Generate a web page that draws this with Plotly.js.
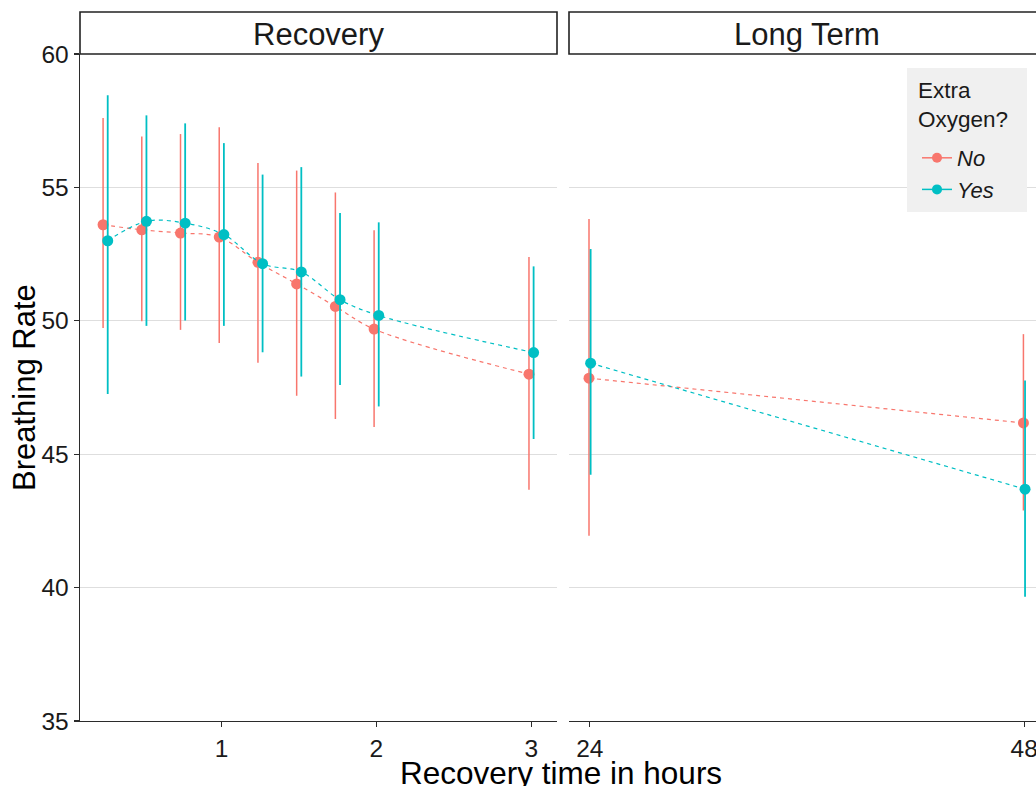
<!DOCTYPE html>
<html>
<head>
<meta charset="utf-8">
<script src="https://cdn.plot.ly/plotly-3.0.1.min.js"></script>
<style>html,body{margin:0;padding:0;background:#fff;}#chart{width:1036px;height:786px;}</style>
</head>
<body>
<div id="chart"></div>
<script>
// ---- Data ----
const panels = ["Recovery", "Long Term"];
const groups = ["No", "Yes"];
const legendTitle = "Extra<br>Oxygen?";
const hoursRecovery = [0.25, 0.5, 0.75, 1, 1.25, 1.5, 1.75, 2, 3];
const hoursLong = [24, 48];

const noMeanRecovery  = [53.60, 53.41, 53.29, 53.14, 52.19, 51.38, 50.54, 49.69, 48.00];
const noUpperRecovery = [57.60, 56.91, 57.00, 57.25, 55.91, 55.63, 54.81, 53.39, 52.39];
const noLowerRecovery = [49.73, 49.98, 49.66, 49.17, 48.43, 47.19, 46.32, 46.02, 43.67];

const yesMeanRecovery  = [53.00, 53.73, 53.66, 53.23, 52.14, 51.83, 50.79, 50.20, 48.81];
const yesUpperRecovery = [58.45, 57.70, 57.40, 56.66, 55.48, 55.76, 54.04, 53.69, 52.04];
const yesLowerRecovery = [47.26, 49.81, 50.01, 49.81, 48.82, 47.91, 47.59, 46.79, 45.57];

const noMeanLong  = [47.85, 46.17];
const noUpperLong = [53.82, 49.50];
const noLowerLong = [41.94, 42.89];

const yesMeanLong  = [48.41, 43.69];
const yesUpperLong = [52.69, 47.76];
const yesLowerLong = [44.23, 39.66];

const yTicks = [35, 40, 45, 50, 55, 60];
const xTicksRecovery = [1, 2, 3];
const xTicksLong = [24, 48];

// ---- Styling ----
const colNo = "#F8766D", colYes = "#00BFC4";
const FONT = "Liberation Sans, Arial, sans-serif";
const dodgeRecovery = 0.015, dodgeLong = 0.045;

function series(x, mean, upper, lower, color, dodge, xa, ya, spline, thick) {
  return {
    type: "scatter", mode: "lines+markers",
    x: x.map(v => v + dodge), y: mean,
    xaxis: xa, yaxis: ya, showlegend: false, hoverinfo: "x+y",
    line: {color: color, width: 1.2, dash: "4px,4px", shape: spline ? "spline" : "linear", smoothing: 1},
    marker: {color: color, size: 11, line: {width: 0}},
    error_y: {type: "data", symmetric: false,
      array: upper.map((u, i) => u - mean[i]),
      arrayminus: lower.map((l, i) => mean[i] - l),
      width: 0, thickness: thick, color: color}
  };
}

const traces = [
  series(hoursRecovery, noMeanRecovery, noUpperRecovery, noLowerRecovery, colNo, -dodgeRecovery, "x", "y", true, 1.5),
  series(hoursRecovery, yesMeanRecovery, yesUpperRecovery, yesLowerRecovery, colYes, dodgeRecovery, "x", "y", true, 1.8),
  series(hoursLong, noMeanLong, noUpperLong, noLowerLong, colNo, -dodgeLong, "x2", "y2", false, 1.5),
  series(hoursLong, yesMeanLong, yesUpperLong, yesLowerLong, colYes, dodgeLong, "x2", "y2", false, 1.8),
  // legend keys
  {type: "scatter", mode: "lines+markers", x: [null], y: [null], name: "<i>" + groups[0] + "</i>",
   legendgroup: "g0", line: {color: colNo, width: 1.5}, marker: {color: colNo, size: 10}, showlegend: true},
  {type: "scatter", mode: "lines+markers", x: [null], y: [null], name: "<i>" + groups[1] + "</i>",
   legendgroup: "g1", line: {color: colYes, width: 1.5}, marker: {color: colYes, size: 10}, showlegend: true}
];

const axisCommon = {
  showline: true, linecolor: "#2b2b2b", linewidth: 1.4,
  ticks: "outside", ticklen: 5, tickwidth: 1.2, tickcolor: "#2b2b2b",
  tickfont: {family: FONT, size: 24.5, color: "#1a1a1a"},
  showgrid: false, zeroline: false, fixedrange: true
};

const L = 80, R = 0, T = 54, B = 65;
const W = 1036, H = 786;
const pw = W - L - R, ph = H - T - B;
const px2x = p => (p - L) / pw;
const py2y = p => (H - B - p) / ph;

const layout = {
  width: W, height: H,
  margin: {l: L, r: R, t: T, b: B, pad: 0},
  paper_bgcolor: "#ffffff", plot_bgcolor: "#ffffff",
  font: {family: FONT, color: "#1a1a1a"},
  showlegend: true,
  xaxis: Object.assign({}, axisCommon, {domain: [0, px2x(557)], range: [0.086, 3.166],
    tickvals: xTicksRecovery, ticktext: xTicksRecovery.map(String), anchor: "y"}),
  xaxis2: Object.assign({}, axisCommon, {domain: [px2x(569), 1], range: [22.85, 48.65],
    tickvals: xTicksLong, ticktext: xTicksLong.map(String), anchor: "y2", ticklabeloverflow: "allow"}),
  yaxis: Object.assign({}, axisCommon, {domain: [0, 1], range: [35, 60], tickvals: yTicks,
    ticktext: yTicks.map(String), showgrid: true, gridcolor: "#DEDEDE", gridwidth: 1.2, anchor: "x"}),
  yaxis2: Object.assign({}, axisCommon, {domain: [0, 1], range: [35, 60], tickvals: yTicks,
    showticklabels: false, ticks: "", showline: false, showgrid: true, gridcolor: "#DEDEDE",
    gridwidth: 1.2, anchor: "x2"}),
  legend: {
    x: px2x(917), y: py2y(137), xanchor: "left", yanchor: "top",
    bgcolor: "rgba(0,0,0,0)", borderwidth: 0,
    font: {family: FONT, size: 22, color: "#1a1a1a"},
    itemwidth: 30, tracegroupgap: 0
  },
  shapes: [
    {type: "rect", xref: "paper", yref: "paper", x0: 0, x1: px2x(557), y0: py2y(54), y1: py2y(12),
     line: {color: "#222222", width: 1.6}, fillcolor: "rgba(0,0,0,0)", layer: "above"},
    {type: "rect", xref: "paper", yref: "paper", x0: px2x(569), x1: 1.02, y0: py2y(54), y1: py2y(12),
     line: {color: "#222222", width: 1.6}, fillcolor: "rgba(0,0,0,0)", layer: "above"},
    // legend background box
    {type: "rect", xref: "paper", yref: "paper", x0: px2x(907), x1: px2x(1027), y0: py2y(212), y1: py2y(68),
     line: {width: 0}, fillcolor: "#F0F0F0", layer: "above"}
  ],
  annotations: [
    {text: panels[0], xref: "paper", yref: "paper", x: px2x(318), y: py2y(34), xanchor: "center", yanchor: "middle",
     showarrow: false, font: {family: FONT, size: 31, color: "#1a1a1a"}},
    {text: panels[1], xref: "paper", yref: "paper", x: px2x(807), y: py2y(34), xanchor: "center", yanchor: "middle",
     showarrow: false, font: {family: FONT, size: 31, color: "#1a1a1a"}},
    {text: legendTitle, xref: "paper", yref: "paper", x: px2x(916), y: py2y(76), xanchor: "left", yanchor: "top",
     align: "left", showarrow: false, font: {family: FONT, size: 22.5, color: "#1a1a1a"}},
    {text: "Breathing Rate", xref: "paper", yref: "paper", x: px2x(24), y: py2y(388), xanchor: "center", yanchor: "middle",
     textangle: -90, showarrow: false, font: {family: FONT, size: 31, color: "#000000"}},
    {text: "Recovery time in hours", xref: "paper", yref: "paper", x: px2x(561), y: py2y(773), xanchor: "center", yanchor: "middle",
     showarrow: false, font: {family: FONT, size: 31.5, color: "#000000"}}
  ]
};

Plotly.newPlot("chart", traces, layout, {displayModeBar: false, staticPlot: true});
</script>
</body>
</html>
